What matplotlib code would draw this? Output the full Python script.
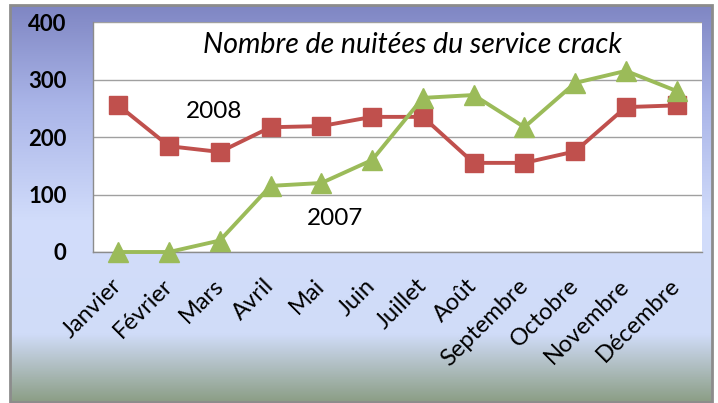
import numpy as np
import matplotlib
matplotlib.use("Agg")
import matplotlib.pyplot as plt
from matplotlib.colors import LinearSegmentedColormap
from matplotlib.patches import Rectangle

plt.rcParams['font.family'] = ['Lato', 'DejaVu Sans']

# --- DATA ---
months = ["Janvier", "Février", "Mars", "Avril", "Mai", "Juin", "Juillet",
          "Août", "Septembre", "Octobre", "Novembre", "Décembre"]
nuitees_2008 = [255, 184, 174, 217, 219, 235, 235, 155, 155, 175, 252, 255]
nuitees_2007 = [0, 0, 20, 115, 120, 160, 268, 273, 217, 294, 315, 280]
y_ticks = [0, 100, 200, 300, 400]
title = "Nombre de nuitées du service crack"

W, H = 718, 403
fig = plt.figure(figsize=(W / 100, H / 100), dpi=100)
fig.patch.set_facecolor("white")

# --- BACKGROUND FRAME WITH GRADIENT ---
bg = fig.add_axes([10 / W, 1 - 402 / H, 702 / W, 397 / H])
bg.set_axis_off()
grad_cmap = LinearSegmentedColormap.from_list(
    "frame",
    [(0.0, "#7f86c3"), (0.25, "#aab5e8"), (0.55, "#d2ddfb"),
     (0.83, "#d0dcf8"), (1.0, "#8c9e86")])
grad = np.linspace(0, 1, 256).reshape(-1, 1)
bg.imshow(grad, aspect="auto", cmap=grad_cmap, extent=[0, 1, 0, 1],
          origin="upper")
bg.set_xlim(0, 1)
bg.set_ylim(0, 1)
bg.add_patch(Rectangle((0, 0), 1, 1, fill=False, edgecolor="#8c8c8c",
                       linewidth=2, transform=bg.transAxes, clip_on=False))

# --- PLOT AREA ---
ax = fig.add_axes([93 / W, 1 - 252 / H, 609 / W, 230 / H])
ax.set_facecolor("white")
x = np.arange(len(months))

ax.plot(x, nuitees_2008, color="#c0504d", linewidth=2.8, marker="s",
        markersize=12.5, zorder=3)
ax.plot(x, nuitees_2007, color="#9bbb59", linewidth=2.8, marker="^",
        markersize=14, zorder=4, clip_on=False)

ax.set_xlim(-0.5, len(months) - 0.5)
ax.set_ylim(0, 400)
ax.set_yticks(y_ticks)
ax.set_yticklabels([str(v) for v in y_ticks], fontsize=16, fontweight="bold")
ax.set_xticks(x)
ax.set_xticklabels(months, fontsize=17, rotation=45, ha="right",
                   va="center", rotation_mode="anchor")
ax.tick_params(axis="y", length=0, pad=19)
ax.tick_params(axis="x", length=0, pad=22)
ax.grid(axis="y", color="#a0a0a0", linewidth=1)
ax.set_axisbelow(True)
for side in ("top", "right"):
    ax.spines[side].set_visible(False)
for side in ("left", "bottom"):
    ax.spines[side].set_color("#8c8c8c")
    ax.spines[side].set_linewidth(1)

ax.text(0.525, 0.9, title, transform=ax.transAxes, fontsize=20.5,
        style="italic", ha="center", va="center")
ax.text(1.88, 245, "2008", fontsize=17.5, ha="center", va="center")
ax.text(4.27, 59, "2007", fontsize=17.5, ha="center", va="center")

fig.savefig("out.png", dpi=100)
